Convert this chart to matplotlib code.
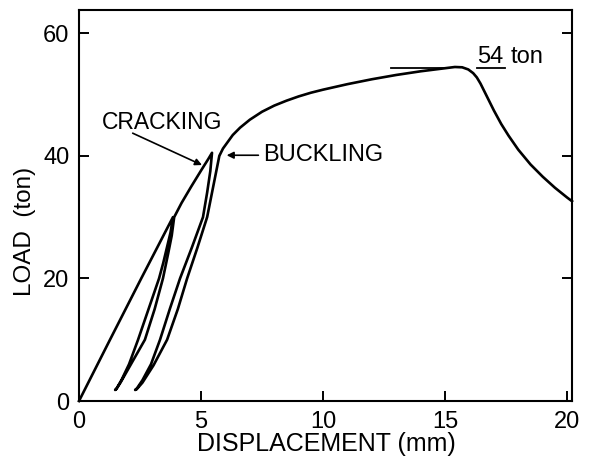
import matplotlib
matplotlib.use("Agg")
import matplotlib.pyplot as plt

plt.rcParams['font.family'] = ['Liberation Sans', 'DejaVu Sans']

# Load path data (displacement mm, load ton)
envelope1_x = [0, 1.27, 2.55, 3.2, 3.55, 3.85]
envelope1_y = [0, 10, 20, 25, 27.7, 30]
loop1_down_x = [3.75, 3.6, 3.45, 3.28, 2.85, 2.42, 2.05, 1.75, 1.55, 1.48]
loop1_down_y = [27.5, 25, 22.5, 20, 15, 10, 6, 3.5, 2.1, 1.8]
loop1_up_x = [1.52, 1.7, 2.1, 2.70, 3.1, 3.44, 3.65, 3.8, 3.9]
loop1_up_y = [1.9, 3.0, 5.8, 10, 15, 20, 24, 27, 30]
envelope2_x = [4.2, 4.6, 5.0, 5.3, 5.45]
envelope2_y = [32.3, 35.0, 37.6, 39.5, 40.5]
loop2_down_x = [5.38, 5.25, 5.08, 4.62, 4.14, 3.72, 3.32, 2.95, 2.6, 2.38, 2.3]
loop2_down_y = [37.5, 34, 30, 25, 20, 15, 10, 6, 3.4, 2.1, 1.8]
loop2_up_x = [2.36, 2.6, 3.05, 3.61, 4.05, 4.43, 4.85, 5.25, 5.5, 5.65, 5.75]
loop2_up_y = [1.9, 3.0, 5.8, 10, 15, 20, 25, 30, 35, 38, 40]
main_x = [5.9, 6.1, 6.3, 6.6, 7.0, 7.5, 8.0, 8.5, 9.0, 9.5, 10.0, 11.0, 12.0, 13.0,
          14.0, 15.0, 15.4, 15.7, 15.95, 16.15, 16.3, 16.45, 16.6, 16.8, 17.0, 17.3,
          17.6, 18.0, 18.5, 19.0, 19.5, 20.0, 20.2]
main_y = [41.2, 42.3, 43.4, 44.6, 45.9, 47.2, 48.2, 49.0, 49.7, 50.3, 50.8, 51.7, 52.5, 53.2,
          53.8, 54.3, 54.5, 54.45, 54.1, 53.5, 52.8, 51.8, 50.6, 49.0, 47.4, 45.2,
          43.3, 41.0, 38.6, 36.6, 34.8, 33.2, 32.6]

peak_load = 54.4
x_ticks = [0, 5, 10, 15, 20]
y_ticks = [0, 20, 40, 60]

xs = envelope1_x + loop1_down_x + loop1_up_x + envelope2_x + loop2_down_x + loop2_up_x + main_x
ys = envelope1_y + loop1_down_y + loop1_up_y + envelope2_y + loop2_down_y + loop2_up_y + main_y

fig = plt.figure(figsize=(5.91, 4.63), dpi=100)
ax = fig.add_axes([79/591, 1 - 401/463, (572-79)/591, (401-10)/463])

ax.plot(xs, ys, color='black', lw=1.9, solid_joinstyle='round', clip_on=False)

# Peak reference lines
ax.plot([12.8, 15.0], [peak_load, peak_load], color='black', lw=1.3)
ax.plot([16.3, 17.45], [peak_load, peak_load], color='black', lw=1.3)
ax.text(16.3, 55.1, "54", fontsize=17, ha='left', va='baseline')
ax.text(17.7, 55.1, "ton", fontsize=17, ha='left', va='baseline')

# Annotations
ax.annotate("", xy=(5.04, 38.5), xytext=(2.2, 43.7),
            arrowprops=dict(arrowstyle='-|>', color='black', lw=1.2, mutation_scale=10,
                            shrinkA=0, shrinkB=0))
ax.text(0.95, 45.5, "CRACKING", fontsize=16.5, ha='left', va='center')
ax.annotate("", xy=(6.05, 40.1), xytext=(7.35, 40.1),
            arrowprops=dict(arrowstyle='-|>', color='black', lw=1.2, mutation_scale=10,
                            shrinkA=0, shrinkB=0))
ax.text(7.55, 40.1, "BUCKLING", fontsize=17, ha='left', va='center')

ax.set_xlim(0, 20.2)
ax.set_ylim(0, 63.8)
ax.set_xticks(x_ticks)
ax.set_yticks(y_ticks)
ax.set_xticklabels([str(t) for t in x_ticks])
ax.set_yticklabels([str(t) for t in y_ticks])
ax.tick_params(direction='in', length=7, width=1.4, labelsize=17, pad=7,
               right=True, top=False)
for s in ax.spines.values():
    s.set_linewidth(1.5)

fig.text(25/591, 1 - 231/463, "LOAD  (ton)", rotation=90, fontsize=17.5,
         ha='center', va='center')
fig.text(326/591, 1 - 444/463, "DISPLACEMENT (mm)", fontsize=18,
         ha='center', va='center')

fig.savefig("out.png", dpi=100)
